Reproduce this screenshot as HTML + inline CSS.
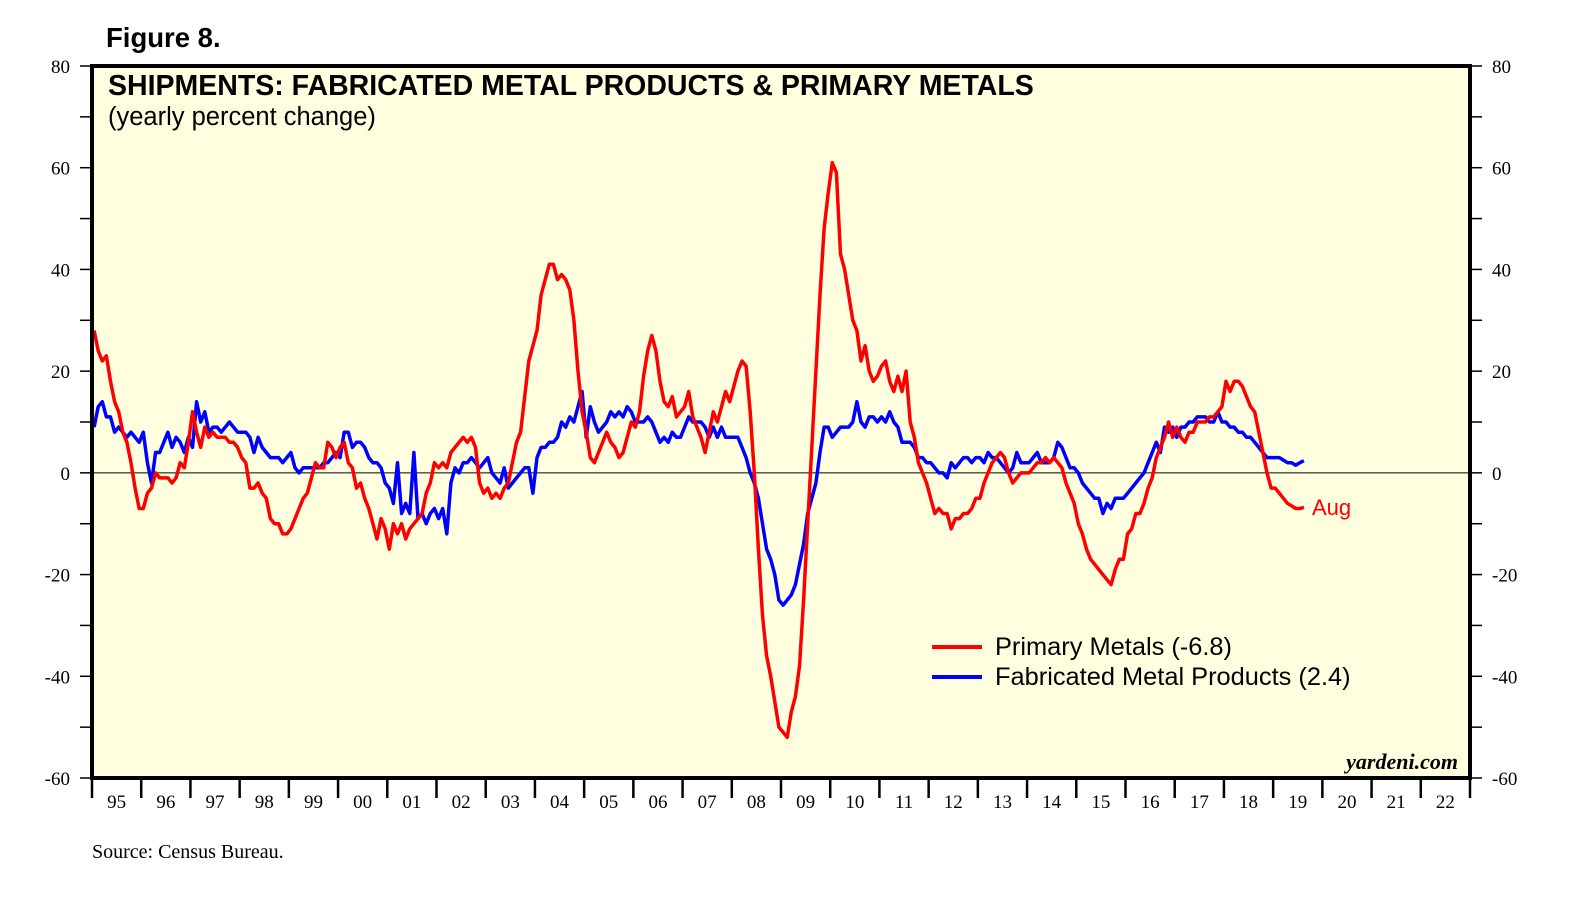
<!DOCTYPE html>
<html><head><meta charset="utf-8"><style>
body{margin:0;background:#fff;width:1585px;height:902px;overflow:hidden}
svg text{font-family:"Liberation Serif",serif}
</style></head><body>
<svg id="c" width="1585" height="902">
<text x="106" y="47" font-weight="bold" font-size="27.5" style="font-family:'Liberation Sans',sans-serif">Figure 8.</text>
<rect x="92" y="66" width="1378" height="712" fill="#ffffe0" stroke="none"/>
<g id="grid"></g>
<g id="series"></g>
<rect x="92" y="66" width="1378" height="712" fill="none" stroke="#000" stroke-width="4"/>
<text x="108" y="95" font-size="28.5" font-weight="bold" style="font-family:'Liberation Sans',sans-serif">SHIPMENTS: FABRICATED METAL PRODUCTS &amp; PRIMARY METALS</text>
<text x="108" y="125" font-size="25.5" style="font-family:'Liberation Sans',sans-serif">(yearly percent change)</text>
<line x1="932" y1="647" x2="982" y2="647" stroke="#f00" stroke-width="4"/>
<text x="995" y="655" font-size="25.4" style="font-family:'Liberation Sans',sans-serif">Primary Metals (-6.8)</text>
<line x1="932" y1="677" x2="982" y2="677" stroke="#00f" stroke-width="4"/>
<text x="995" y="685" font-size="25.4" style="font-family:'Liberation Sans',sans-serif">Fabricated Metal Products (2.4)</text>
<text x="1312" y="515" font-size="22" fill="#f00" style="font-family:'Liberation Sans',sans-serif">Aug</text>
<text x="1458" y="769" font-size="22" font-weight="bold" font-style="italic" text-anchor="end">yardeni.com</text>
<text x="92" y="858" font-size="20">Source: Census Bureau.</text>
</svg>
<script>
const yTicks=[-60,-40,-20,0,20,40,60,80];
const yearLabels=["95","96","97","98","99","00","01","02","03","04","05","06","07","08","09","10","11","12","13","14","15","16","17","18","19","20","21","22"];
const primary=[28,24,22,23,18,14,12,8,6,2,-3,-7,
-7,-4,-3,0,-1,-1,-1,-2,-1,2,1,6,
12,8,5,9,7,8,7,7,7,6,6,5,
3,2,-3,-3,-2,-4,-5,-9,-10,-10,-12,-12,
-11,-9,-7,-5,-4,-1,2,1,1,6,5,3,
5,6,2,1,-3,-2,-5,-7,-10,-13,-9,-11,
-15,-10,-12,-10,-13,-11,-10,-9,-8,-4,-2,2,
1,2,1,4,5,6,7,6,7,5,-2,-4,
-3,-5,-4,-5,-3,-2,2,6,8,15,22,25,
28,35,38,41,41,38,39,38,36,30,20,12,
8,3,2,4,6,8,6,5,3,4,7,10,
9,12,19,24,27,24,18,14,13,15,11,12,
13,16,11,9,7,4,8,12,10,13,16,14,
17,20,22,21,12,0,-15,-28,-36,-40,-45,-50,
-51,-52,-47,-44,-38,-25,-10,5,20,35,48,55,
61,59,43,40,35,30,28,22,25,20,18,19,
21,22,18,16,19,16,20,10,7,2,0,-2,
-5,-8,-7,-8,-8,-11,-9,-9,-8,-8,-7,-5,
-5,-2,0,2,3,4,3,0,-2,-1,0,0,
0,1,2,2,3,2,3,2,1,-2,-4,-6,
-10,-12,-15,-17,-18,-19,-20,-21,-22,-19,-17,-17,
-12,-11,-8,-8,-6,-3,-1,3,5,7,10,7,
9,7,6,8,8,10,10,10,11,11,12,13,
18,16,18,18,17,15,13,12,8,4,0,-3,
-3,-4,-5,-6,-6.5,-7,-7,-6.8];
const fabricated=[9,13,14,11,11,8,9,8,7,8,7,6,
8,2,-2,4,4,6,8,5,7,6,4,7,
5,14,10,12,8,9,9,8,9,10,9,8,
8,8,7,4,7,5,4,3,3,3,2,3,
4,1,0,1,1,1,1,1,2,2,3,4,
3,8,8,5,6,6,5,3,2,2,1,-2,
-3,-6,2,-8,-6,-8,4,-9,-8,-10,-8,-7,
-9,-7,-12,-2,1,0,2,2,3,2,1,2,
3,0,-1,-2,1,-3,-2,-1,0,1,1,-4,
3,5,5,6,6,7,10,9,11,10,13,16,
7,13,10,8,9,10,12,11,12,11,13,12,
10,10,10,11,10,8,6,7,6,8,7,7,
9,11,10,10,10,9,7,9,7,9,7,7,
7,7,5,3,0,-2,-5,-10,-15,-17,-20,-25,
-26,-25,-24,-22,-18,-14,-8,-5,-2,4,9,9,
7,8,9,9,9,10,14,10,9,11,11,10,
11,10,12,10,9,6,6,6,5,3,3,2,
2,1,0,0,-1,2,1,2,3,3,2,3,
3,2,4,3,3,2,1,0,1,4,2,2,
2,3,4,2,2,2,3,6,5,3,1,1,
0,-2,-3,-4,-5,-5,-8,-6,-7,-5,-5,-5,
-4,-3,-2,-1,0,2,4,6,4,9,8,9,
7,9,9,10,10,11,11,11,10,10,12,10,
10,9,9,8,8,7,7,6,5,4,3,3,
3,3,2.5,2,2,1.5,2,2.4];
const X0=92,X1=1470,Y0=66,Y1=778,yMin=-60,yMax=80,nYears=28;
const xm=m=>X0+(m+0.5)*(X1-X0)/(nYears*12);
const xy=yr=>X0+yr*(X1-X0)/nYears;
const yv=v=>Y1-(v-yMin)*(Y1-Y0)/(yMax-yMin);
const NS="http://www.w3.org/2000/svg";
const mk=(t,a,p)=>{const e=document.createElementNS(NS,t);for(const k in a)e.setAttribute(k,a[k]);p.appendChild(e);return e;};
const g=document.getElementById('grid'),s=document.getElementById('series');
for(let v=yMin;v<=yMax;v+=10){
 const l=mk('line',{x1:X0-12,x2:X0,y1:yv(v),y2:yv(v),stroke:'#000','stroke-width':1.5},g);
 
 
 const r=mk('line',{x1:X1,x2:X1+12,y1:yv(v),y2:yv(v),stroke:'#000','stroke-width':1.5},g);
 
 
}
yTicks.forEach(v=>{
 const a=mk('text',{x:70,y:yv(v)+7,'font-size':19,'text-anchor':'end'},g);a.textContent=v;
 
 
 const b=mk('text',{x:1492,y:yv(v)+7,'font-size':19},g);b.textContent=v;
 
 
});
const z=mk('line',{x1:X0,x2:X1,y1:yv(0),y2:yv(0),stroke:'#000','stroke-width':1},g);


yearLabels.forEach((lab,i)=>{
 const t=mk('line',{x1:xy(i),x2:xy(i),y1:Y1,y2:Y1+20,stroke:'#000','stroke-width':2.5},g);
 
 
 const tx=mk('text',{x:xy(i+0.5),y:Y1+30,'font-size':19,'text-anchor':'middle'},g);tx.textContent=lab;
 
 
});
const t2=mk('line',{x1:X1,x2:X1,y1:Y1,y2:Y1+20,stroke:'#000','stroke-width':2.5},g);


function line(arr,col,name){
 const p=mk('polyline',{points:arr.map((v,i)=>xm(i).toFixed(1)+','+yv(v).toFixed(1)).join(' '),fill:'none',stroke:col,'stroke-width':3.5,'stroke-linejoin':'round'},s);
 
 
}
line(fabricated,'#0000ff','fabricated-metal-line');
line(primary,'#ff0000','primary-metals-line');
</script>
</body></html>
